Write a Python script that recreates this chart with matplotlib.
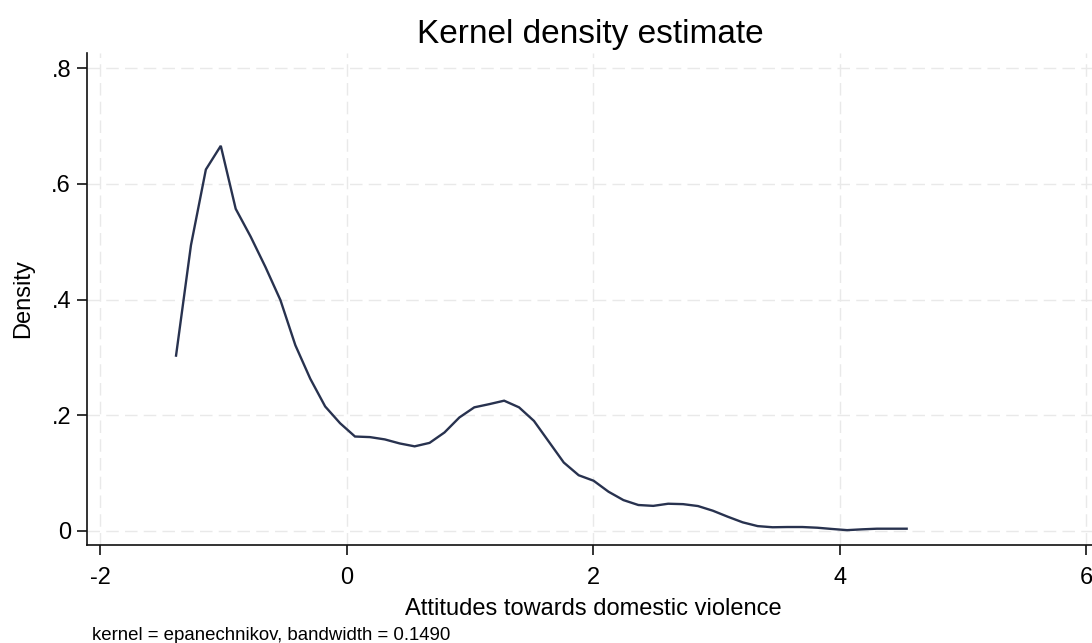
import numpy as np
import matplotlib.pyplot as plt

plt.rcParams['font.family'] = ['Liberation Sans', 'DejaVu Sans']

# Kernel density grid points
grid_x = [-1.387, -1.266, -1.145, -1.024, -0.903, -0.782, -0.661, -0.540, -0.419, -0.298,
          -0.177, -0.056, 0.065, 0.186, 0.307, 0.428, 0.549, 0.670, 0.791, 0.912,
          1.033, 1.154, 1.275, 1.396, 1.517, 1.638, 1.759, 1.880, 2.001, 2.122,
          2.243, 2.364, 2.485, 2.606, 2.727, 2.848, 2.969, 3.090, 3.211, 3.332,
          3.453, 3.574, 3.695, 3.816, 3.937, 4.058, 4.179, 4.300, 4.421, 4.541]
density = [0.303, 0.494, 0.625, 0.666, 0.557, 0.509, 0.456, 0.399, 0.321, 0.263,
           0.215, 0.186, 0.163, 0.162, 0.158, 0.151, 0.146, 0.152, 0.170, 0.196,
           0.2135, 0.219, 0.225, 0.2135, 0.190, 0.154, 0.118, 0.096, 0.0865, 0.0675,
           0.053, 0.0445, 0.043, 0.0467, 0.046, 0.0427, 0.0346, 0.0242, 0.0145, 0.008,
           0.006, 0.0064, 0.0064, 0.0052, 0.003, 0.001, 0.0024, 0.0035, 0.0035, 0.0035]

xticks = [-2, 0, 2, 4, 6]
yticks = [0, 0.2, 0.4, 0.6, 0.8]
ytick_labels = ["0", ".2", ".4", ".6", ".8"]

W, H = 1092, 643
fig = plt.figure(figsize=(W / 100, H / 100), dpi=100)
ax = fig.add_axes([87 / W, (H - 545) / H, (W - 87) / W, (545 - 53) / H])

ax.plot(grid_x, density, color='#28324f', lw=1.7, solid_joinstyle='miter')

ax.set_xlim(-2.1095, 6.045)
ax.set_ylim(-0.0247, 0.8266)
ax.set_xticks(xticks)
ax.set_xticklabels([str(t) for t in xticks])
ax.set_yticks(yticks)
ax.set_yticklabels(ytick_labels)

# light dashed Stata-style grid
ax.grid(True, color='#e9e9e9', linestyle=(0, (9, 4.5)), lw=1.0)
ax.set_axisbelow(True)

for s in ['top', 'right']:
    ax.spines[s].set_visible(False)
for s in ['left', 'bottom']:
    ax.spines[s].set_linewidth(1.2)
    ax.spines[s].set_color('#111111')

ax.tick_params(axis='both', direction='out', length=7.5, width=1.2, color='#111111',
               labelsize=17)
ax.tick_params(axis='x', pad=8)
ax.tick_params(axis='y', pad=4)

# titles placed in figure pixels
fig.text(590 / W, 1 - 43 / H, "Kernel density estimate", fontsize=24,
         ha='center', va='baseline')
fig.text(593 / W, 1 - 615 / H, "Attitudes towards domestic violence", fontsize=17,
         ha='center', va='baseline')
fig.text(23 / W, 1 - 299 / H, "Density", fontsize=17, rotation=90,
         ha='center', va='center')
fig.text(92 / W, 1 - 640 / H, "kernel = epanechnikov, bandwidth = 0.1490",
         fontsize=13.4, va='baseline', ha='left')

fig.savefig("out.png", dpi=100)
